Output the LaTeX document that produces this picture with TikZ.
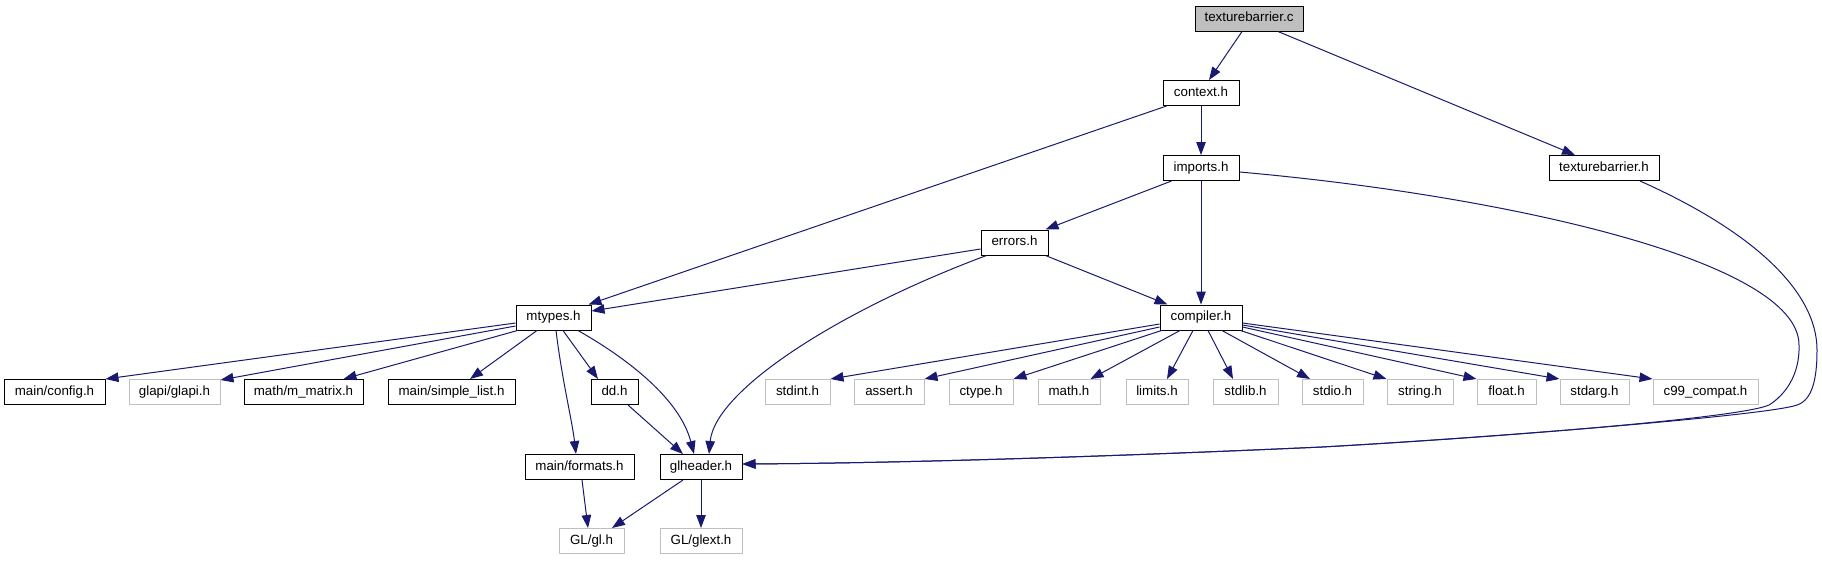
\documentclass[tikz,border=0pt]{standalone}
\usepackage{fontspec}
\setmainfont{Liberation Sans}
\usetikzlibrary{arrows.meta,calc}
\definecolor{edgeblue}{HTML}{191970}
\definecolor{greyseventyfive}{HTML}{BFBFBF}
\begin{document}
\begin{tikzpicture}[x=1pt,y=-1pt,font=\fontsize{13.33}{16}\selectfont,
  box/.style={draw=black,line width=1pt,fill=white,inner sep=0pt,minimum height=25pt,
    text height=9.6pt,text depth=2.8pt,anchor=center},
  gbox/.style={box,draw=greyseventyfive},
  dep/.style={draw=edgeblue,line width=1pt,-{Triangle[length=13pt,width=9.5pt]},edgeblue}]
\useasboundingbox (0,0) rectangle (1822,560);
% row 0
\node[box,fill=greyseventyfive,minimum width=108pt] (tbc) at (1249,18.5) {texturebarrier.c};
% row 1
\node[box,minimum width=76pt] (context) at (1201,93) {context.h};
% row 2
\node[box,minimum width=76pt] (imports) at (1201,168) {imports.h};
\node[box,minimum width=110pt] (tbh) at (1604,168) {texturebarrier.h};
% row 3
\node[box,minimum width=67pt] (errors) at (1014.5,242.5) {errors.h};
% row 4
\node[box,minimum width=75pt] (mtypes) at (553.5,317.5) {mtypes.h};
\node[box,minimum width=82pt] (compiler) at (1201,317.5) {compiler.h};
% row 5
\node[box,minimum width=101pt] (config) at (54.5,392) {main/config.h};
\node[gbox,minimum width=91pt] (glapi) at (174.5,392) {glapi/glapi.h};
\node[box,minimum width=119pt] (mmatrix) at (303.5,392) {math/m\_matrix.h};
\node[box,minimum width=127pt] (simplelist) at (451.5,392) {main/simple\_list.h};
\node[box,minimum width=47pt] (dd) at (614.5,392) {dd.h};
\node[gbox,minimum width=65pt] (stdint) at (797.5,392) {stdint.h};
\node[gbox,minimum width=70pt] (assert) at (889,392) {assert.h};
\node[gbox,minimum width=64pt] (ctype) at (981,392) {ctype.h};
\node[gbox,minimum width=62pt] (math) at (1069,392) {math.h};
\node[gbox,minimum width=62pt] (limits) at (1157,392) {limits.h};
\node[gbox,minimum width=65pt] (stdlib) at (1245.5,392) {stdlib.h};
\node[gbox,minimum width=61pt] (stdio) at (1332.5,392) {stdio.h};
\node[gbox,minimum width=66pt] (string) at (1420,392) {string.h};
\node[gbox,minimum width=59pt] (float) at (1506.5,392) {float.h};
\node[gbox,minimum width=69pt] (stdarg) at (1594.5,392) {stdarg.h};
\node[gbox,minimum width=105pt] (cnn) at (1705.5,392) {c99\_compat.h};
% row 6
\node[box,minimum width=109pt] (formats) at (579.5,467) {main/formats.h};
\node[box,minimum width=82pt] (glheader) at (701,467) {glheader.h};
% row 7
\node[gbox,minimum width=65pt] (gl) at (591.5,541) {GL/gl.h};
\node[gbox,minimum width=82pt] (glext) at (701,541) {GL/glext.h};

% edges
\draw[dep] ($(tbc.south)+(-7,0)$) -- ($(context.north)+(8,0)$);
\draw[dep] ($(tbc.south)+(29,0)$) -- ($(tbh.north)+(-29,0)$);
\draw[dep] (context) -- (imports);
\draw[dep] ($(context.south west)+(4,0)$) -- ($(mtypes.north east)+(-3,0)$);
\draw[dep] ($(imports.south west)+(9,0)$) -- ($(errors.north east)+(-3,0)$);
\draw[dep] (imports) -- (compiler);
\draw[dep] ($(imports.east)+(0,4)$) .. controls (1500,195) and (1799,260) .. (1799,345)
  .. controls (1800,375) and (1785,395) .. (1769,405)
  .. controls (1740,418) and (1500,437) .. (1322,447)
  .. controls (1100,457) and (900,463) .. ($(glheader.east)+(0,-3)$);
\draw[dep] ($(tbh.south)+(36,0)$) .. controls (1750,230) and (1817,290) .. (1817,350)
  .. controls (1817,380) and (1812,400) .. (1797,405)
  .. controls (1770,415) and (1500,437) .. (1322,447)
  .. controls (1100,457) and (900,463) .. ($(glheader.east)+(0,-3)$);
\draw[dep] ($(errors.west)+(0,6.5)$) -- ($(mtypes.east)+(0,-6.5)$);
\draw[dep] ($(errors.south west)+(6,0)$) .. controls (840,310) and (715,390) .. ($(glheader.north)+(8,0)$);
\draw[dep] ($(errors.south east)+(-3,0)$) -- ($(compiler.north west)+(8,0)$);
% mtypes
\draw[dep] ($(mtypes.west)+(0,5.5)$) -- (config.north east);
\draw[dep] ($(mtypes.west)+(0,8.5)$) -- ($(glapi.north east)+(0,1)$);
\draw[dep] ($(mtypes.south west)+(2,0)$) -- ($(mmatrix.north east)+(-20,0)$);
\draw[dep] ($(mtypes.south)+(-16.5,0)$) -- ($(simplelist.north)+(18.5,0)$);
\draw[dep] ($(mtypes.south)+(2.5,0)$) .. controls (562,380) and (572,420) .. ($(formats.north)+(-3.5,0)$);
\draw[dep] ($(mtypes.south)+(9.5,0)$) -- ($(dd.north)+(-16.5,0)$);
\draw[dep] ($(mtypes.south)+(24.5,0)$) .. controls (630,360) and (680,400) .. ($(glheader.north)+(-7,0)$);
\draw[dep] ($(dd.south)+(13.5,0)$) -- ($(glheader.north)+(-18,0)$);
% lower
\draw[dep] ($(formats.south)+(2.5,0)$) -- ($(gl.north)+(-3.5,0)$);
\draw[dep] ($(glheader.south)+(-18,0)$) -- ($(gl.north)+(20.5,0)$);
\draw[dep] (glheader) -- (glext);
% compiler
\draw[dep] ($(compiler.west)+(0,6.5)$) -- (stdint.north east);
\draw[dep] ($(compiler.west)+(0,9.5)$) -- (assert.north east);
\draw[dep] ($(compiler.south west)+(2,0)$) -- (ctype.north east);
\draw[dep] ($(compiler.south)+(-21,0)$) -- ($(math.north east)+(-10,0)$);
\draw[dep] ($(compiler.south)+(-8,0)$) -- ($(limits.north)+(10,0)$);
\draw[dep] ($(compiler.south)+(7,0)$) -- ($(stdlib.north)+(-12.5,0)$);
\draw[dep] ($(compiler.south)+(21,0)$) -- ($(stdio.north)+(-22.5,0)$);
\draw[dep] ($(compiler.south east)+(-2,0)$) -- (string.north west);
\draw[dep] ($(compiler.east)+(0,9.5)$) -- (float.north west);
\draw[dep] ($(compiler.east)+(0,7.5)$) -- (stdarg.north west);
\draw[dep] ($(compiler.east)+(0,5.5)$) -- (cnn.north west);
\end{tikzpicture}
\end{document}
